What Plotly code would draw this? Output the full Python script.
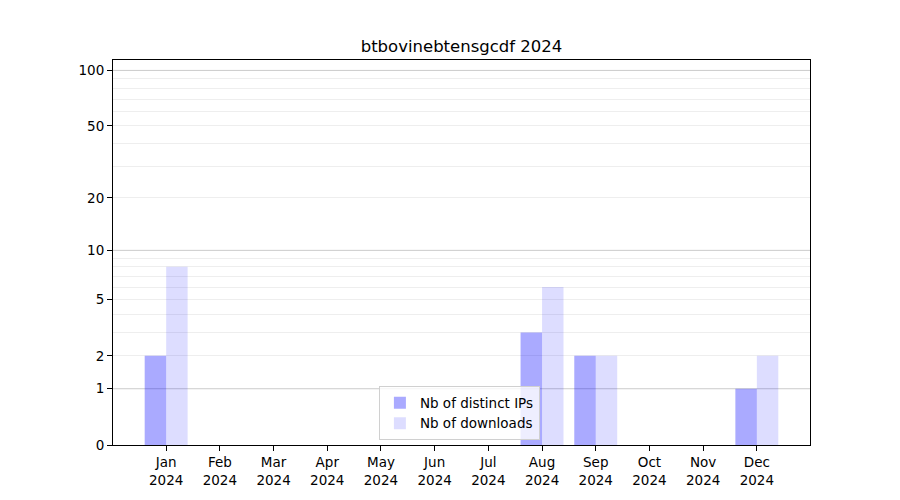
import numpy as np
import plotly.graph_objects as go

months = ["Jan", "Feb", "Mar", "Apr", "May", "Jun", "Jul", "Aug", "Sep", "Oct", "Nov", "Dec"]
year = "2024"
distinct_ips = [2, 0, 0, 0, 0, 0, 0, 3, 2, 0, 0, 1]
downloads = [8, 0, 0, 0, 0, 0, 0, 6, 2, 0, 0, 2]
tick_values = [0, 1, 2, 5, 10, 20, 50, 100]
major_grid = [1, 10, 100]
minor_grid = [2, 3, 4, 5, 6, 7, 8, 9, 20, 30, 40, 50, 60, 70, 80, 90]

def f(v):
    return np.log10(1 + np.asarray(v, dtype=float))

x = list(range(len(months)))
font = "DejaVu Sans, sans-serif"

fig = go.Figure()
fig.add_trace(go.Bar(x=x, y=f(distinct_ips), name="Nb of distinct IPs",
                     marker=dict(color="rgba(0,0,255,0.333)", line=dict(width=0))))
fig.add_trace(go.Bar(x=x, y=f(downloads), name="Nb of downloads",
                     marker=dict(color="rgba(0,0,255,0.135)", line=dict(width=0))))

for g in major_grid:
    fig.add_shape(type="line", xref="paper", x0=0, x1=1, yref="y", y0=float(f(g)), y1=float(f(g)),
                  line=dict(color="#cbcbcb", width=1), layer="below")

fig.update_layout(
    width=900, height=500,
    paper_bgcolor="white", plot_bgcolor="white",
    margin=dict(l=105, r=98, t=52, b=63),
    barmode="group", bargap=0.2, bargroupgap=0,
    title=dict(text="btbovinebtensgcdf 2024", x=(105 + 802) / 2 / 900, xanchor="center",
               y=1 - 38 / 500, yanchor="middle", font=dict(family=font, size=16.5, color="black")),
    font=dict(family=font, size=13.5, color="black"),
    legend=dict(x=0.497, xanchor="center", y=0.012, yanchor="bottom",
                bgcolor="rgba(255,255,255,0.8)", bordercolor="#d0d0d0", borderwidth=1,
                font=dict(family=font, size=13.5), tracegroupgap=2),
    showlegend=True,
)
fig.update_xaxes(
    range=[-0.99, 11.99], tickmode="array", tickvals=x,
    ticktext=[f"{m}<br>{year}" for m in months],
    showgrid=False, zeroline=False,
    showline=True, linecolor="black", linewidth=1, mirror=True,
    ticks="outside", ticklen=5, tickcolor="black",
)
fig.update_yaxes(
    range=[0, 2.06], tickmode="array", tickvals=list(f(tick_values)),
    ticktext=[str(t) for t in tick_values],
    showgrid=False, zeroline=False,
    showline=True, linecolor="black", linewidth=1, mirror=True,
    ticks="outside", ticklen=5, tickcolor="black",
    minor=dict(tickmode="array", tickvals=list(f(minor_grid)), showgrid=True,
               gridcolor="#eeeeee", gridwidth=1, ticks=""),
)

fig.write_html("out.html")
